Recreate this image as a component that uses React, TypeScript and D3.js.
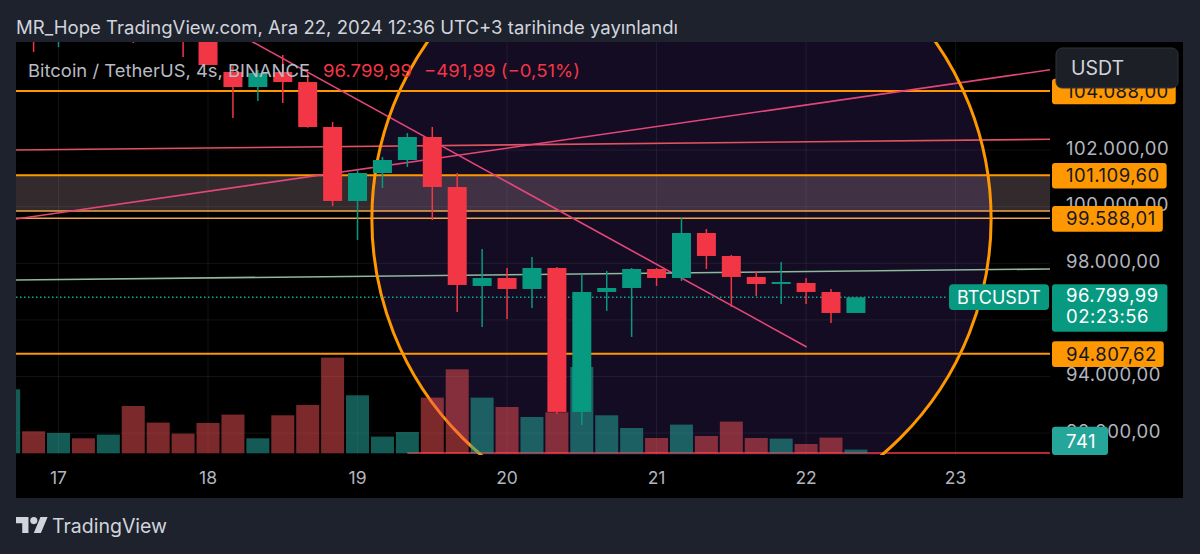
import React, { useMemo } from 'react';
import * as d3 from 'd3';

const W = 1200;
const H = 554;
const HOUR = 3600 * 1000;
const START = Date.UTC(2024, 11, 17, 0, 0);
const FIRST_INDEX = -2; // first candle is 2 bars (8h) before Dec 17 00:00

// 4h candles, BTCUSDT
const opens = [106100, 106900, 106150, 107050, 106600, 107600, 106300, 106150, 105900, 104759, 104229, 104759, 104405, 102816, 100202, 101191, 101650, 102463, 100696, 97199, 97481, 97093, 97835, 92748, 96987, 97128, 97799, 97481, 99071, 98259, 97517, 97269, 97305, 96987, 96245];
const highs = [107100, 107300, 107400, 107800, 108350, 107900, 106900, 106500, 106200, 104967, 104829, 105359, 104723, 102992, 101297, 101756, 102604, 102816, 101191, 98506, 97835, 98224, 97870, 97623, 97729, 97835, 97835, 99601, 99212, 98294, 97729, 98047, 97481, 97093, 96800];
const lows = [105900, 105465, 105641, 106300, 106400, 105783, 105900, 105288, 105006, 103134, 103734, 103664, 102790, 100025, 98824, 100661, 101403, 99530, 96280, 95750, 96033, 96422, 92677, 92289, 96316, 95397, 97199, 97376, 97799, 96457, 96846, 96563, 96563, 95892, 96245];
const closes = [106900, 106150, 107050, 106600, 107600, 106300, 106150, 105900, 105006, 104229, 104723, 104405, 102816, 100202, 101191, 101650, 102463, 100696, 97234, 97481, 97093, 97835, 92748, 96987, 97128, 97799, 97481, 99071, 98259, 97517, 97269, 97340, 96987, 96245, 96799.99];
const volumes = [12800, 4400, 4060, 3000, 3740, 9460, 6140, 3940, 6060, 7740, 3000, 7600, 9660, 19140, 11600, 3340, 4260, 11140, 16800, 11140, 9260, 7260, 8200, 17260, 7600, 5060, 3060, 5740, 3460, 6340, 3060, 2940, 1860, 3140, 741];

const dayTickLabels = ['17', '18', '19', '20', '21', '22', '23'];
const gridPrices = [92000, 94000, 96000, 98000, 100000, 102000];
const axisPriceLabels = ['92.000,00', '94.000,00', '96.000,00', '98.000,00', '100.000,00', '102.000,00'];

// drawings (hours from Dec 17 00:00 UTC, price)
const strongLevels = [104088, 101109.6, 94807.62];
const strongLevelLabels = ['104.088,00', '101.109,60', '94.807,62'];
const thinLevels = [99848, 99588.01];
const thinLevelLabels = ['', '99.588,01'];
const zonePrices = [101109.6, 99848];
const redFlatLine = [[-6.82, 102003], [159.1, 102381]];
const risingLine = [[-6.82, 99566], [159.1, 104836]];
const fallingLine = [[31.2, 105818], [120.1, 95044]];
const greenLine = [[-6.82, 97411], [159.1, 97799]];
const bottomRay = [56, 91300];
const circleCenter = [100, 99566];
const circleEdge = [149.7, 99566];

const lastPrice = 96799.99;
const lastPriceLabel = '96.799,99';
const countdown = '02:23:56';
const lastVolumeLabel = '741';

const headerText = 'MR_Hope TradingView.com, Ara 22, 2024 12:36 UTC+3 tarihinde yayınlandı';
const legendSymbol = 'Bitcoin / TetherUS, 4s, BINANCE';
const legendPrice = '96.799,99';
const legendChange = '−491,99 (−0,51%)';

const FONT = "Inter, 'Noto Sans', Roboto, sans-serif";
const UP = '#089981';
const DOWN = '#f23645';
const ORANGE = '#ff9800';

export default function App() {
  const measure = useMemo(() => {
    const c = document.createElement('canvas').getContext('2d');
    return (t: string, size: number, spacing = 0) => {
      if (!c) return t.length * (size * 0.58 + spacing);
      c.font = `${size}px Inter`;
      return c.measureText(t).width + spacing * t.length;
    };
  }, []);

  const plot = { l: 16, r: 1050, t: 42, b: 455 };
  const tAt = (h: number) => new Date(START + h * HOUR);
  const x = d3.scaleUtc().domain([new Date(START), new Date(START + 144 * HOUR)]).range([58.5, 955.6]);
  const y = d3.scaleLinear().domain([92000, 102000]).range([433.1, 150.1]);
  const yv = d3.scaleLinear().domain([0, 20000]).range([453.3, 353.3]);

  const candles = opens.map((o, k) => {
    const i = k + FIRST_INDEX;
    return { t: tAt(i * 4), o, h: highs[k], l: lows[k], c: closes[k], v: volumes[k] };
  });

  const line = d3.line<[number, number]>().x((d) => d[0]).y((d) => d[1]);
  const extended = (pts: number[][], left = true, right = true) => {
    const x1 = x(tAt(pts[0][0])), y1 = y(pts[0][1]);
    const x2 = x(tAt(pts[1][0])), y2 = y(pts[1][1]);
    const s = (y2 - y1) / (x2 - x1);
    const xa = left ? plot.l - 20 : x1;
    const xb = right ? plot.r + 20 : x2;
    return line([[xa, y1 + s * (xa - x1)], [xb, y1 + s * (xb - x1)]]) || '';
  };

  const ticks = dayTickLabels.map((lab, k) => ({ lab, px: x(tAt(k * 24)) }));
  const cx = x(tAt(circleCenter[0]));
  const cy = y(circleCenter[1]);
  const cr = x(tAt(circleEdge[0])) - cx;
  const bodyW = 19;
  const barW = 23;

  const axisX = 1066;
  const fsAxis = 18.5;
  const ls = 0.5;
  const labelBox = (text: string, yc: number, fill: string, color: string, key: string) => {
    const w = measure(text, fsAxis, ls);
    return (
      <g key={key}>
        <rect x={1052} y={yc - 12.8} width={axisX - 1052 + w + 7} height={25.6} rx={3} fill={fill} />
        <text x={axisX} y={yc + 6.5} fontSize={fsAxis} letterSpacing={ls} fill={color} fontFamily={FONT}>{text}</text>
      </g>
    );
  };
  const lastW = Math.max(measure(lastPriceLabel, fsAxis, ls), measure(axisPriceLabels[2], fsAxis, ls)) + axisX - 1052 + 7;

  return (
    <svg width={W} height={H} style={{ display: 'block', position: 'absolute', left: 0, top: 0 }}>
      <defs>
        <clipPath id="plotClip">
          <rect x={plot.l} y={plot.t} width={plot.r - plot.l} height={plot.b - plot.t} />
        </clipPath>
      </defs>
      <rect x={0} y={0} width={W} height={H} fill="#1e222d" />
      <rect x={16} y={42} width={1167} height={456} fill="#000" />

      <text x={16} y={34} fontSize={18} textLength={662} lengthAdjust="spacingAndGlyphs" fill="#d1d4dc" fontFamily={FONT}>{headerText}</text>

      <g clipPath="url(#plotClip)">
        <circle cx={cx} cy={cy} r={cr} fill="#130c22" />
        {gridPrices.map((p) => (
          <line key={'g' + p} x1={plot.l} x2={plot.r} y1={y(p)} y2={y(p)} stroke="rgba(255,255,255,0.07)" strokeWidth={1} />
        ))}
        {ticks.map((t) => (
          <line key={'v' + t.lab} x1={t.px} x2={t.px} y1={plot.t} y2={plot.b} stroke="rgba(255,255,255,0.07)" strokeWidth={1} />
        ))}
        <rect x={plot.l} y={y(zonePrices[0])} width={plot.r - plot.l} height={y(zonePrices[1]) - y(zonePrices[0])} fill="rgba(170,140,150,0.3)" />
        {strongLevels.map((p) => (
          <line key={'s' + p} x1={plot.l} x2={plot.r} y1={y(p)} y2={y(p)} stroke={ORANGE} strokeWidth={2} />
        ))}
        {thinLevels.map((p) => (
          <line key={'t' + p} x1={plot.l} x2={plot.r} y1={y(p)} y2={y(p)} stroke="#f0a448" strokeWidth={1.5} />
        ))}
        <path d={extended(redFlatLine)} stroke="#e0535f" strokeWidth={1.6} fill="none" />
        <path d={extended(risingLine)} stroke="#e4467a" strokeWidth={1.6} fill="none" />
        <path d={extended(fallingLine, true, false)} stroke="#e4467a" strokeWidth={1.6} fill="none" />
        <path d={extended(greenLine)} stroke="#8fb89c" strokeWidth={1.6} fill="none" />
        <line x1={x(tAt(bottomRay[0]))} x2={plot.r} y1={y(bottomRay[1])} y2={y(bottomRay[1])} stroke="#f23645" strokeWidth={1.5} />
        <circle cx={cx} cy={cy} r={cr} fill="none" stroke={ORANGE} strokeWidth={3} />
        {candles.map((d, k) => (
          <rect key={'vol' + k} x={x(d.t) - barW / 2} y={yv(d.v)} width={barW} height={yv(0) - yv(d.v)}
            fill={d.c >= d.o ? 'rgba(38,166,154,0.55)' : 'rgba(247,82,85,0.5)'} />
        ))}
        <line x1={plot.l} x2={948} y1={y(lastPrice)} y2={y(lastPrice)} stroke="#16a88f" strokeWidth={1.5} strokeDasharray="1.5 2.5" />
        {candles.map((d, k) => {
          const up = d.c >= d.o;
          const col = up ? UP : DOWN;
          const top = y(Math.max(d.o, d.c));
          const bot = y(Math.min(d.o, d.c));
          const px = x(d.t);
          return (
            <g key={'c' + k}>
              <line x1={px} x2={px} y1={y(d.h)} y2={y(d.l)} stroke={col} strokeWidth={1.5} />
              <rect x={px - bodyW / 2} y={top} width={bodyW} height={Math.max(1, bot - top)} fill={col} />
            </g>
          );
        })}
      </g>

      <text x={28} y={77} fontSize={17.5} textLength={282} lengthAdjust="spacingAndGlyphs" fill="#b8bbc2" fontFamily={FONT}>{legendSymbol}</text>
      <text x={323} y={77} fontSize={17.5} textLength={89} lengthAdjust="spacingAndGlyphs" fill={DOWN} fontFamily={FONT}>{legendPrice}</text>
      <text x={424} y={77} fontSize={17.5} textLength={156} lengthAdjust="spacingAndGlyphs" fill={DOWN} fontFamily={FONT}>{legendChange}</text>

      {gridPrices.map((p, k) => (
        <text key={'al' + p} x={axisX} y={y(p) + 4.5} fontSize={fsAxis} letterSpacing={ls} fill="#b2b5be" fontFamily={FONT}>{axisPriceLabels[k]}</text>
      ))}
      {strongLevels.map((p, k) => labelBox(strongLevelLabels[k], y(p) + 0.5, ORANGE, '#131722', 'sl' + k))}
      {thinLevels.map((p, k) => (thinLevelLabels[k] ? labelBox(thinLevelLabels[k], y(p) + 0.5, ORANGE, '#131722', 'tl' + k) : null))}

      <rect x={1052} y={y(lastPrice) - 13} width={lastW} height={47.5} rx={3} fill={UP} />
      <text x={axisX} y={y(lastPrice) + 4.5} fontSize={fsAxis} letterSpacing={ls} fill="#fff" fontFamily={FONT}>{lastPriceLabel}</text>
      <text x={axisX} y={y(lastPrice) + 26} fontSize={fsAxis} letterSpacing={ls} fill="#fff" fontFamily={FONT}>{countdown}</text>

      <rect x={949} y={y(lastPrice) - 13} width={100} height={25.7} rx={4} fill={UP} />
      <text x={999} y={y(lastPrice) + 6.5} fontSize={18} fill="#fff" textAnchor="middle" fontFamily={FONT}>BTCUSDT</text>

      <rect x={1052} y={426.7} width={56} height={28.3} rx={3} fill="#26a69a" />
      <text x={axisX} y={447.5} fontSize={fsAxis} letterSpacing={ls} fill="#fff" fontFamily={FONT}>{lastVolumeLabel}</text>

      <rect x={1056} y={48} width={122} height={40} rx={6} fill="#1c1f26" stroke="#2e323d" strokeWidth={1} />
      <text x={1071} y={75} fontSize={19.5} fill="#d1d4dc" fontFamily={FONT}>USDT</text>

      {ticks.map((t) => (
        <text key={'tl' + t.lab} x={t.px} y={484} fontSize={17.5} fill="#b2b5be" textAnchor="middle" fontFamily={FONT}>{t.lab}</text>
      ))}

      <g transform="translate(16,513.5) scale(0.89)" fill="#d1d4dc">
        <path d="M14 22H7V11H0V4h14v18zM28 22h-8l7.5-18h8L28 22z" />
        <circle cx={20} cy={8} r={4} />
      </g>
      <text x={52} y={533} fontSize={19.5} fill="#d1d4dc" fontFamily={FONT}>TradingView</text>
    </svg>
  );
}
